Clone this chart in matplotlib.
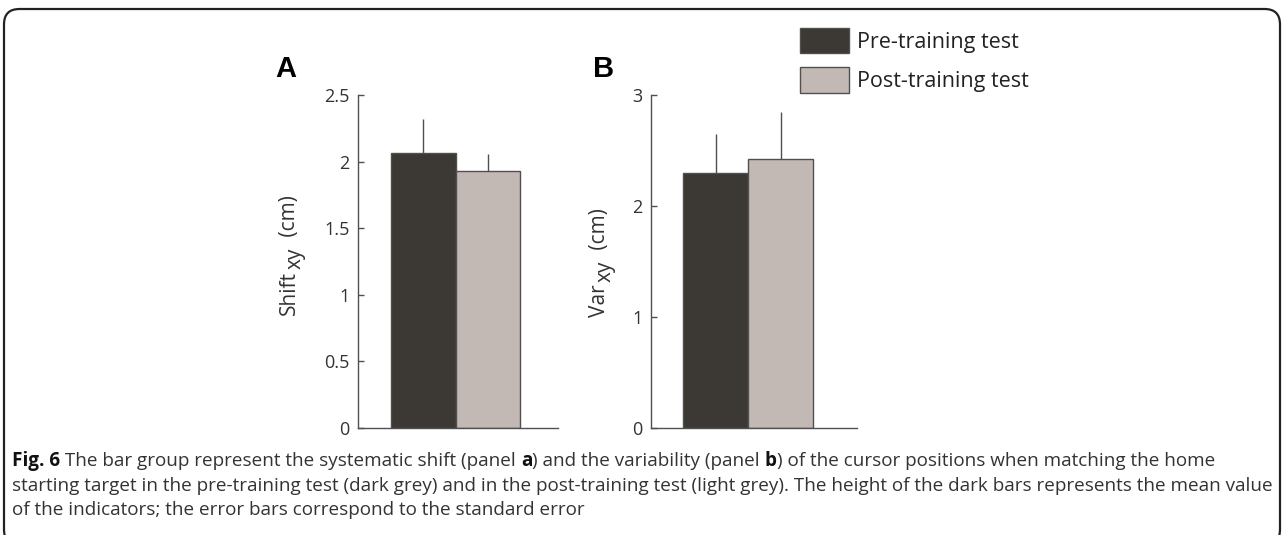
import matplotlib
matplotlib.use("Agg")
import matplotlib.pyplot as plt
from matplotlib.patches import FancyBboxPatch

# values
panels = ["A", "B"]
pre_means = [2.065, 2.30]
post_means = [1.93, 2.42]
pre_err = [0.258, 0.35]
post_err = [0.125, 0.43]
ylabel_parts = [("Shift", "xy", " (cm)"), ("Var", "xy", " (cm)")]
ylims = [2.5, 3]
yticks = [[0, 0.5, 1, 1.5, 2, 2.5], [0, 1, 2, 3]]
yticklabels = [["0", "0.5", "1", "1.5", "2", "2.5"], ["0", "1", "2", "3"]]
series_names = ["Pre-training test", "Post-training test"]

caption_lines = [
    [("Fig. 6", "bold"), (" The bar group represent the systematic shift (panel ", "normal"), ("a", "bold"),
     (") and the variability (panel ", "normal"), ("b", "bold"),
     (") of the cursor positions when matching the home", "normal")],
    [("starting target in the pre-training test (dark grey) and in the post-training test (light grey). "
      "The height of the dark bars represents the mean value", "normal")],
    [("of the indicators; the error bars correspond to the standard error", "normal")],
]

dark = "#3c3833"
light = "#c2b9b4"
edge = "#505050"

plt.rcParams["font.family"] = ["Open Sans", "DejaVu Sans"]

W, H = 1287, 535
fig = plt.figure(figsize=(W / 100, H / 100), dpi=100)

def px(x, y):
    return x / W, 1 - y / H

# axes boxes in pixels: left, right, top, bottom
boxes = [(358, 558, 95, 428), (651, 857, 95, 428)]
group_pos = [0.4875, 0.471]   # where the bar pair sits inside each axes
bar_w = [0.3225, 0.3155]
label_start = [(295, 315), (605, 317)]   # baseline x, lower end y of rotated label
letter_xy = [(275, 77), (593, 77)]

handles = None
for i in range(2):
    l, r, t, b = boxes[i]
    ax = fig.add_axes([l / W, 1 - b / H, (r - l) / W, (b - t) / H])
    x0 = 1
    w = bar_w[i]
    ax.set_xlim(x0 - group_pos[i], x0 + 1 - group_pos[i])
    ax.set_ylim(0, ylims[i])
    b1 = ax.bar(x0 - w / 2, pre_means[i], w, color=dark, edgecolor=edge, linewidth=1,
                label=series_names[0], zorder=2)
    b2 = ax.bar(x0 + w / 2, post_means[i], w, color=light, edgecolor=edge, linewidth=1,
                label=series_names[1], zorder=2)
    # upper error bars only, no caps
    ax.errorbar([x0 - w / 2, x0 + w / 2], [pre_means[i], post_means[i]],
                yerr=[[0, 0], [pre_err[i], post_err[i]]], fmt="none",
                ecolor=edge, elinewidth=1, capsize=0, zorder=1)
    for s in ["top", "right"]:
        ax.spines[s].set_visible(False)
    for s in ["left", "bottom"]:
        ax.spines[s].set_color("#505050")
        ax.spines[s].set_linewidth(1)
    ax.set_xticks([])
    ax.set_yticks(yticks[i])
    ax.set_yticklabels(yticklabels[i])
    ax.tick_params(axis="y", direction="in", length=4, width=1, color="#505050",
                   labelsize=13, labelcolor="#333333", pad=6)
    ax.patch.set_alpha(0)
    fig.text(*px(*letter_xy[i]), panels[i], fontsize=21,
             fontweight="bold", family=["Liberation Sans", "DejaVu Sans"], ha="left",
             va="baseline", color="black")
    handles = [b1, b2]

fig.legend(handles, series_names, loc="upper left", bbox_to_anchor=px(800, 28),
           frameon=False, fontsize=15.5, handlelength=2.28, handleheight=1.44,
           labelspacing=0.65, handletextpad=0.37, borderpad=0, borderaxespad=0,
           labelcolor="#222222")

# rounded frame
frame = FancyBboxPatch((4 / W, -10 / H), (1280 - 4) / W, (H - 9 + 10) / H,
                       boxstyle="round,pad=0,rounding_size=0.012",
                       transform=fig.transFigure, facecolor="none", edgecolor="#222222",
                       linewidth=1.6, mutation_aspect=W / H)
fig.add_artist(frame)

fig.canvas.draw()
renderer = fig.canvas.get_renderer()

# y labels, built from pieces so the subscript stays near full size
gaps = [0, 2, 6]
for i in range(2):
    bx, y = label_start[i]
    for j, part in enumerate(ylabel_parts[i]):
        sub = j == 1
        y = y - gaps[j]
        t = fig.text(*px(bx + (6 if sub else 0), y), part, fontsize=15,
                     rotation=90, rotation_mode="anchor", ha="left", va="baseline",
                     color="#333333")
        y = y - t.get_window_extent(renderer).height

# caption with mixed weight
line_y = [461, 486, 510]
for k, line in enumerate(caption_lines):
    x = 12
    for txt, wt in line:
        t = fig.text(*px(x, line_y[k]), txt, fontsize=13.6, fontweight=wt,
                     color="#111111" if wt == "bold" else "#333333", ha="left", va="center")
        x = x + t.get_window_extent(renderer).width

fig.savefig("out.png", dpi=100)
